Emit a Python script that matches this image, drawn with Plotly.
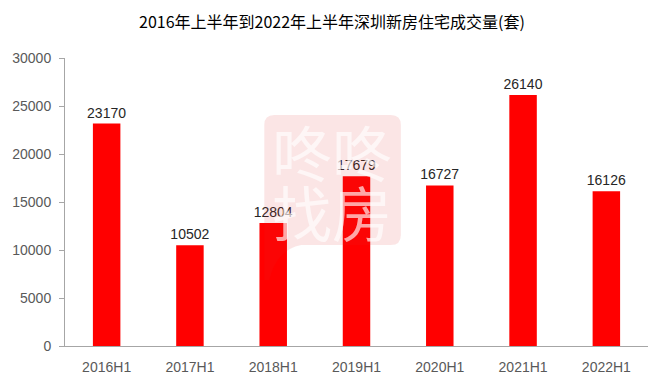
import plotly.graph_objects as go

categories = ["2016H1", "2017H1", "2018H1", "2019H1", "2020H1", "2021H1", "2022H1"]
values = [23170, 10502, 12804, 17679, 16727, 26140, 16126]
y_ticks = [0, 5000, 10000, 15000, 20000, 25000, 30000]
title_text = "2016年上半年到2022年上半年深圳新房住宅成交量(套)"
watermark_rows = ["咚咚", "找房"]

W, H = 664, 387
ml, mr, mt, mb = 63, 16, 58, 41
pw, ph = W - ml - mr, H - mt - mb

def px(x):
    return (x - ml) / pw

def py(y):
    return (H - mb - y) / ph

fig = go.Figure()
fig.add_trace(go.Bar(
    x=categories, y=values,
    marker=dict(color="#ff0000", line=dict(width=0)),
    width=0.33,
    text=[str(v) for v in values],
    textposition="outside",
    constraintext="none",
    textfont=dict(family="Liberation Sans, Arial", size=14, color="#262626"),
    cliponaxis=False,
))

# watermark bubble (rounded rect with tail)
x0, x1, y0, y1, r = 263, 400, 115, 245, 10
tail_y = 280
path = (
    f"M {px(x0 + r)},{py(y0)} "
    f"L {px(x1 - r)},{py(y0)} Q {px(x1)},{py(y0)} {px(x1)},{py(y0 + r)} "
    f"L {px(x1)},{py(y1 - r)} Q {px(x1)},{py(y1)} {px(x1 - r)},{py(y1)} "
    f"L {px(300)},{py(y1)} "
    f"Q {px(275)},{py(250)} {px(268)},{py(tail_y)} "
    f"L {px(x0)},{py(tail_y)} "
    f"L {px(x0)},{py(y0 + r)} Q {px(x0)},{py(y0)} {px(x0 + r)},{py(y0)} Z"
)
fig.add_shape(type="path", path=path, xref="paper", yref="paper",
              fillcolor="rgba(220,40,40,0.12)", line=dict(width=0), layer="above")

for i, row in enumerate(watermark_rows):
    fig.add_annotation(
        text=row, xref="paper", yref="paper",
        x=px(331), y=py(150 + i * 60), xanchor="center", yanchor="middle",
        showarrow=False,
        font=dict(family="Noto Sans CJK SC", size=60, color="rgba(255,255,255,0.65)"),
    )

fig.update_layout(
    width=W, height=H,
    margin=dict(l=ml, r=mr, t=mt, b=mb, pad=0),
    paper_bgcolor="white", plot_bgcolor="white",
    showlegend=False,
    title=dict(text=title_text, x=0.5, xanchor="center", y=1 - 22 / H, yanchor="middle",
               font=dict(family="Noto Sans CJK SC", size=16, color="#000000")),
    bargap=0.67,
)
fig.update_xaxes(
    showline=True, linecolor="#a6a6a6", linewidth=1,
    ticks="", showgrid=False,
    tickfont=dict(family="Liberation Sans, Arial", size=14, color="#595959"),
    ticklabelstandoff=8,
)
fig.update_yaxes(
    range=[0, 30000], tickvals=y_ticks, ticktext=[str(v) for v in y_ticks],
    showline=True, linecolor="#a6a6a6", linewidth=1,
    ticks="outside", ticklen=5, tickcolor="#a6a6a6",
    showgrid=False, zeroline=False,
    tickfont=dict(family="Liberation Sans, Arial", size=14, color="#595959"),
    ticklabelstandoff=5,
)

fig.write_html("out.html")
